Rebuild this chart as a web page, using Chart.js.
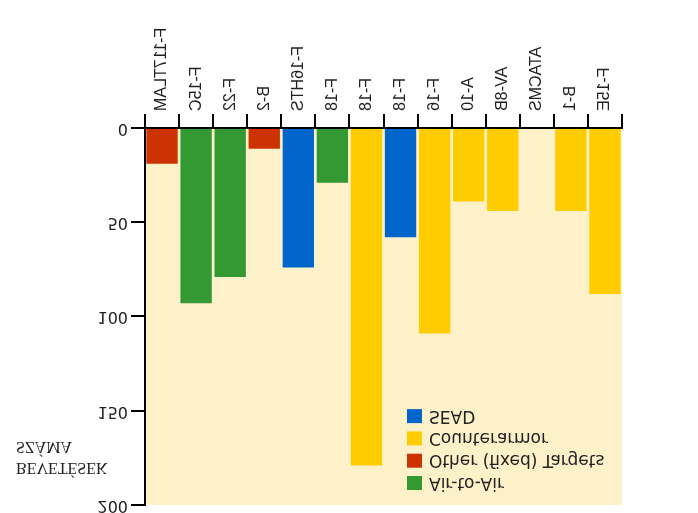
<!DOCTYPE html>
<html>
<head>
<meta charset="utf-8">
<script src="https://cdn.jsdelivr.net/npm/chart.js@4/dist/chart.umd.min.js"></script>
<style>
  html, body { margin: 0; padding: 0; background: #fff; }
  #wrap { width: 698px; height: 513px; }
  /* the reference is printed upside down, so the whole chart is mirrored vertically */
  #sorties { transform: scaleY(-1); }
</style>
</head>
<body>
<div id="wrap"><canvas id="sorties" width="698" height="513"></canvas></div>
<script>
const categories = ['F-117TLAM', 'F-15C', 'F-22', 'B-2', 'F-16HTS', 'F-18', 'F-18', 'F-18', 'F-16', 'A-10', 'AV-8B', 'ATACMS', 'B-1', 'F-15E'];
const sorties = [19, 93, 79, 11, 74, 29, 179, 58, 109, 39, 44, 0, 44, 88];
const missionOf = ['Other (fixed) Targets', 'Air-to-Air', 'Air-to-Air', 'Other (fixed) Targets', 'SEAD', 'Air-to-Air',
    'Counterarmor', 'SEAD', 'Counterarmor', 'Counterarmor', 'Counterarmor', 'Counterarmor', 'Counterarmor', 'Counterarmor'];
const missions = ['Air-to-Air', 'Other (fixed) Targets', 'Counterarmor', 'SEAD'];
const missionColors = ['#339933', '#cc3300', '#ffcc00', '#0066cc'];
const yTicks = [0, 50, 100, 150, 200];
const yTitle = ['BEVETÉSEK', 'SZÁMA'];

const datasets = missions.map((m, k) => ({
    label: m,
    data: sorties.map((v, i) => missionOf[i] === m ? v : null),
    backgroundColor: missionColors[k],
    borderWidth: 0,
    barPercentage: 0.92,
    categoryPercentage: 1
}));

const plotBackground = {
    id: 'plotBackground',
    beforeDraw(chart) {
        const { ctx, chartArea: a } = chart;
        ctx.save();
        ctx.fillStyle = '#fcf1c8';
        ctx.fillRect(a.left, a.top, a.right - a.left, a.bottom - a.top);
        ctx.restore();
    }
};

const sideTexts = {
    id: 'sideTexts',
    afterDraw(chart) {
        const { ctx, chartArea: a } = chart;
        ctx.save();
        // axis title
        ctx.fillStyle = '#222';
        ctx.font = '16px "Liberation Serif"';
        ctx.textBaseline = 'alphabetic';
        ctx.fillText(yTitle[0], 16, 50);
        ctx.fillText(yTitle[1], 16, 71);
        // legend inside the plot
        ctx.font = '17px "DejaVu Sans"';
        ctx.textBaseline = 'middle';
        chart.data.datasets.forEach((ds, i) => {
            const y = a.top + 22 + i * 22.3;
            ctx.fillStyle = ds.backgroundColor;
            ctx.fillRect(a.left + 262, y - 7, 15, 14);
            ctx.fillStyle = '#222';
            ctx.fillText(ds.label, a.left + 284, y + 1);
        });
        ctx.restore();
    }
};

new Chart(document.getElementById('sorties'), {
    type: 'bar',
    data: { labels: categories, datasets: datasets },
    plugins: [plotBackground, sideTexts],
    options: {
        responsive: false,
        animation: false,
        devicePixelRatio: 1,
        layout: { padding: { top: 0, right: 76, left: 0, bottom: 0 } },
        plugins: {
            legend: { display: false },
            tooltip: { enabled: false }
        },
        scales: {
            x: {
                stacked: true,
                afterFit(scale) { scale.height = 128; },
                grid: { offset: true, drawOnChartArea: false, tickLength: 14, color: '#000', lineWidth: 2 },
                border: { color: '#000', width: 2 },
                ticks: {
                    autoSkip: false,
                    minRotation: 90,
                    maxRotation: 90,
                    padding: 3,
                    color: '#222',
                    font: { family: 'Liberation Sans', size: 16 }
                }
            },
            y: {
                stacked: true,
                min: 0,
                max: 200,
                afterFit(scale) {
                    scale.width = 145;
                    scale.paddingTop = 8;
                },
                afterBuildTicks(scale) { scale.ticks = yTicks.map(v => ({ value: v })); },
                grid: { drawOnChartArea: false, tickLength: 14, color: '#000', lineWidth: 2 },
                border: { color: '#000', width: 2 },
                ticks: {
                    padding: 3,
                    color: '#222',
                    font: { family: 'DejaVu Sans', size: 16 }
                }
            }
        }
    }
});
</script>
</body>
</html>
